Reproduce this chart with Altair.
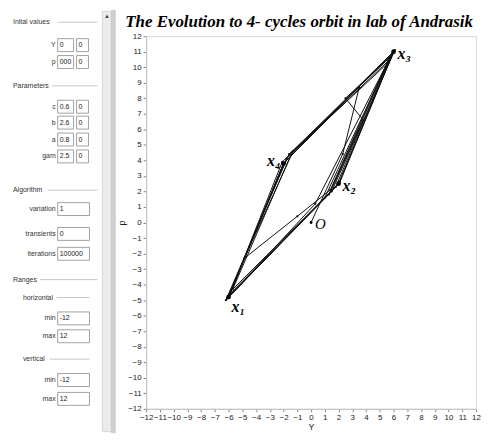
import altair as alt
import pandas as pd

TITLE = "The Evolution to 4- cycles orbit in lab of Andrasik"

# ---------------- orbit (estimated) ----------------
orbit_Y = [0.0, 2.3, 3.5, -1.3, -4.85, -1.0, 1.4, 5.7, 2.5, 3.8,
           1.3, 5.8, -1.6, -6.2, 0.3, 5.5, -1.4, -5.7, 1.0, 5.6,
           -1.8, -6.1, 1.5, 6.1, -2.1, -5.9, 1.8, 5.9, -2.0, -6.0,
           2.1, 6.0, -2.0, -6.0, 2.0, 6.0, -2.0, -6.0, 2.0, 6.0,
           -2.0, -6.0]
orbit_p = [0.0, 4.4, 8.7, 4.6, -2.3, 0.4, 2.1, 10.6, 8.0, 6.6,
           1.8, 10.7, 4.4, -5.0, 1.2, 10.2, 4.5, -4.3, 1.6, 10.4,
           4.1, -4.9, 2.0, 11.1, 3.9, -4.6, 2.3, 10.9, 3.8, -4.8,
           2.6, 11.0, 3.8, -4.8, 2.5, 11.0, 3.8, -4.8, 2.5, 11.0,
           3.8, -4.8]

# labelled points
cycle_names = ["x₁", "x₂", "x₃", "x₄"]
cycle_Y = [-6.0, 2.0, 6.0, -2.0]
cycle_p = [-4.8, 2.5, 11.0, 3.8]
origin_name = ["O"]
origin_Y = [0.0]
origin_p = [0.0]

axis_ticks = [-12, -11, -10, -9, -8, -7, -6, -5, -4, -3, -2, -1, 0,
              1, 2, 3, 4, 5, 6, 7, 8, 9, 10, 11, 12]

# ---------------- side panel content ----------------
section_names = ["Inital values", "Parameters", "Algorithm", "Ranges", "horizontal", "vertical"]
field_names = ["Y", "p", "c", "b", "a", "gam", "variation", "transients", "iterations",
               "min", "max", "min", "max"]
field_val1 = ["0", "000", "0.6", "2.6", "0.8", "2.5", "1", "0", "100000",
              "-12", "12", "-12", "12"]
field_val2 = ["0", "0", "0", "0", "0", "0", "", "", "", "", "", "", ""]

# side panel layout (screen positions of the UI widgets)
section_x = [13, 13, 13, 13, 23, 23]
section_y = [20, 84, 189, 279, 297, 359]
section_line_x = [58, 52, 48, 40, 57, 50]
section_line_x2 = [98, 98, 98, 98, 90, 90]
field_y = [43, 60, 105, 121, 138, 155, 208, 233, 253, 318, 336, 380, 399]

UI_FONT = "Liberation Sans"

# ---------------- main chart ----------------
orbit = pd.DataFrame({"Y": orbit_Y, "p": orbit_p, "step": list(range(len(orbit_Y)))})
cyc = pd.DataFrame({"name": cycle_names, "Y": cycle_Y, "p": cycle_p})
org = pd.DataFrame({"name": origin_name, "Y": origin_Y, "p": origin_p})

xs = alt.Scale(domain=[-12, 12], nice=False, zero=False)
ys = alt.Scale(domain=[-12, 12], nice=False, zero=False)
common_axis = dict(values=axis_ticks, grid=False, tickSize=3, labelFontSize=8,
                   labelFont="Liberation Sans", labelColor="#222", domainColor="#c0c0c0",
                   tickColor="#888", titleFontSize=9, titleFont="Liberation Sans",
                   titleFontWeight="normal", titleColor="#222", labelPadding=2,
                   titlePadding=1, labelFlush=False, labelOverlap=False)
X = alt.X("Y:Q", scale=xs, axis=alt.Axis(**common_axis), title="Y")
Yp = alt.Y("p:Q", scale=ys, axis=alt.Axis(**common_axis), title="p")

base = alt.Chart(orbit)
lines = base.mark_line(color="#111", strokeWidth=1.0, clip=True).encode(x=X, y=Yp, order="step:Q")
dots = base.mark_circle(color="#111", size=5, opacity=1).encode(x=X, y=Yp)
cyc_dots = alt.Chart(cyc).mark_circle(color="black", size=22, opacity=1).encode(x=X, y=Yp)
org_dot = alt.Chart(org).mark_circle(color="black", size=8, opacity=1).encode(x=X, y=Yp)

lab_style = dict(font="Liberation Serif", fontStyle="italic", fontWeight="bold",
                 fontSize=16, color="black", baseline="middle")
lab_right = alt.Chart(cyc).transform_filter(
    alt.FieldOneOfPredicate(field="name", oneOf=["x₂", "x₃"])
).mark_text(align="left", dx=4, dy=2, **lab_style).encode(x=X, y=Yp, text="name:N")
lab_left = alt.Chart(cyc).transform_filter(
    alt.FieldEqualPredicate(field="name", equal="x₄")
).mark_text(align="right", dx=-3, dy=-2, **lab_style).encode(x=X, y=Yp, text="name:N")
lab_below = alt.Chart(cyc).transform_filter(
    alt.FieldEqualPredicate(field="name", equal="x₁")
).mark_text(align="left", dx=3, dy=10, **lab_style).encode(x=X, y=Yp, text="name:N")
lab_o = alt.Chart(org).mark_text(align="left", dx=4, dy=2, font="Liberation Serif",
                                 fontStyle="italic", fontSize=15, color="black",
                                 baseline="middle").encode(x=X, y=Yp, text="name:N")

main = alt.layer(lines, dots, cyc_dots, org_dot, lab_right, lab_left, lab_below, lab_o).properties(
    width=332, height=375,
    title=alt.TitleParams(TITLE, font="Liberation Serif", fontSize=17, fontStyle="italic",
                          fontWeight="bold", color="black", anchor="middle",
                          frame="bounds", offset=1),
)

# ---------------- side panel ----------------
# the panel's view starts level with the plot top (screen y = 34); widgets above it
# are drawn outside the view, as in the reference window.
sx = alt.Scale(domain=[8, 116], nice=False, zero=False)
sy = alt.Scale(domain=[34, 433], nice=False, zero=False, reverse=True)

sec = pd.DataFrame({"name": section_names, "x": section_x, "y": section_y,
                    "lx": section_line_x, "lx2": section_line_x2})
box_rows, lab_rows, val_rows = [], [], []
for n, v1, v2, yy in zip(field_names, field_val1, field_val2, field_y):
    lab_rows.append({"name": n, "x": 56, "y": yy})
    if v2 != "":
        box_rows.append({"x": 58, "x2": 74, "y": yy - 6.5, "y2": yy + 6.5})
        box_rows.append({"x": 77, "x2": 89, "y": yy - 6.5, "y2": yy + 6.5})
        val_rows.append({"v": v1, "x": 60, "y": yy})
        val_rows.append({"v": v2, "x": 79, "y": yy})
    else:
        box_rows.append({"x": 58, "x2": 90, "y": yy - 6.5, "y2": yy + 6.5})
        val_rows.append({"v": v1, "x": 60, "y": yy})
boxes = pd.DataFrame(box_rows)
labs = pd.DataFrame(lab_rows)
vals = pd.DataFrame(val_rows)
chrome = pd.DataFrame({"x": [103, 112], "x2": [112, 116], "y": [9, 8], "y2": [432, 433],
                       "fill": ["#ececec", "#cfcfcf"]})

SX = lambda f: alt.X(f, scale=sx, axis=None)
SY = lambda f: alt.Y(f, scale=sy, axis=None)

side_chrome = alt.Chart(chrome).mark_rect(stroke="#c4c4c4", strokeWidth=0.6).encode(
    x=SX("x:Q"), x2="x2:Q", y=SY("y:Q"), y2="y2:Q",
    fill=alt.Fill("fill:N", scale=None))
arrow = alt.Chart(pd.DataFrame({"t": ["▲"], "x": [107.5], "y": [14]})).mark_text(
    fontSize=6, color="#444").encode(x=SX("x:Q"), y=SY("y:Q"), text="t:N")
sec_text = alt.Chart(sec).mark_text(align="left", baseline="middle", font=UI_FONT,
                                    fontSize=7, color="#333").encode(
    x=SX("x:Q"), y=SY("y:Q"), text="name:N")
sec_line = alt.Chart(sec).mark_rule(color="#c8c8c8", strokeWidth=1).encode(
    x=SX("lx:Q"), x2="lx2:Q", y=SY("y:Q"))
box_marks = alt.Chart(boxes).mark_rect(fill="white", stroke="#8a8a8a", strokeWidth=0.8).encode(
    x=SX("x:Q"), x2="x2:Q", y=SY("y:Q"), y2="y2:Q")
lab_text = alt.Chart(labs).mark_text(align="right", baseline="middle", font=UI_FONT,
                                     fontSize=7, color="#333").encode(
    x=SX("x:Q"), y=SY("y:Q"), text="name:N")
val_text = alt.Chart(vals).mark_text(align="left", baseline="middle", font=UI_FONT,
                                     fontSize=7, color="#222").encode(
    x=SX("x:Q"), y=SY("y:Q"), text="v:N")

side = alt.layer(side_chrome, arrow, sec_line, sec_text, box_marks, lab_text, val_text).properties(
    width=108, height=399, view=alt.ViewBackground(stroke=None))

chart = alt.hconcat(side, main, spacing=0).properties(
    padding=0, background="white"
).configure_view(stroke="#d9d9d9")

chart.save("out.html", embed_options={"renderer": "svg", "actions": False})
